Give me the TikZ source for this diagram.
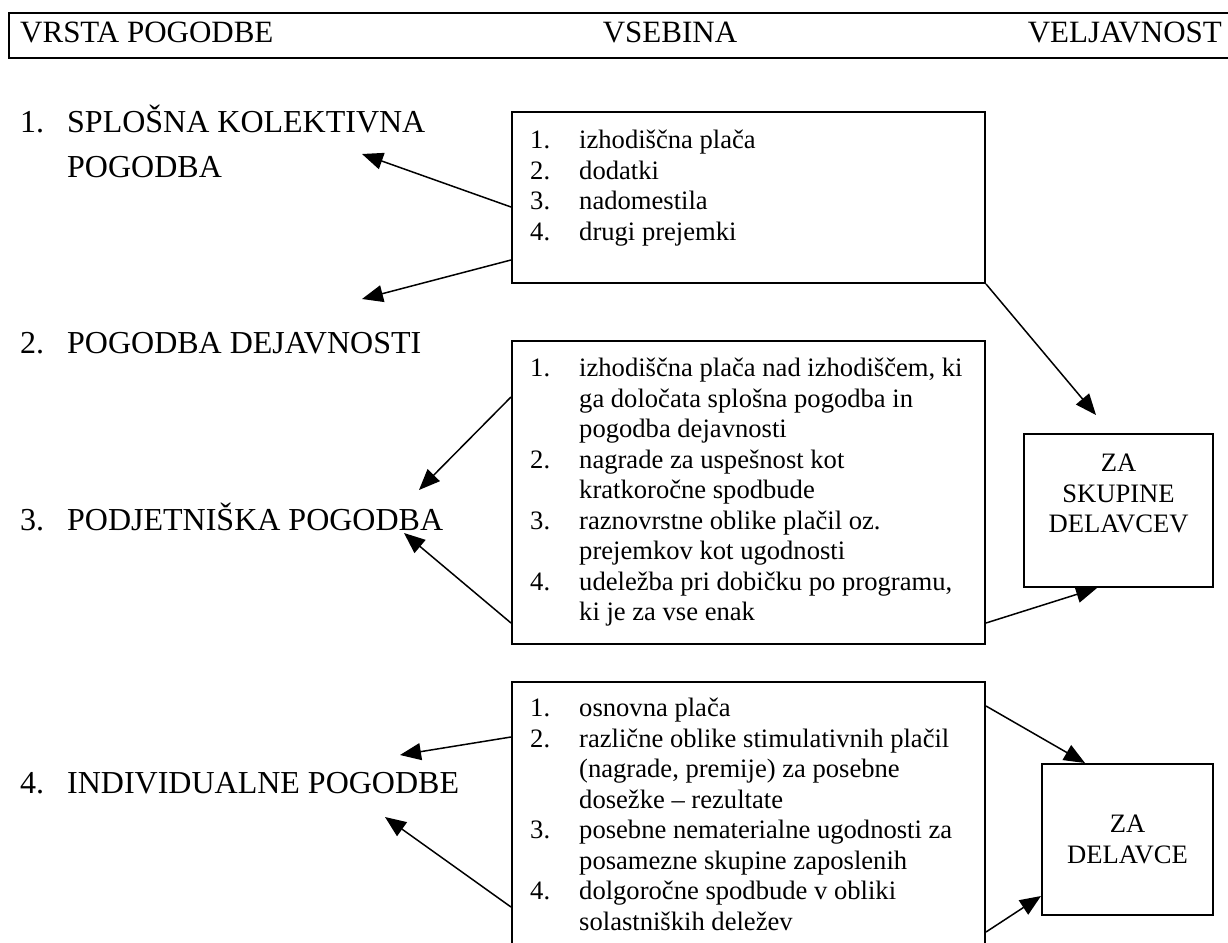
\documentclass[tikz,border=0pt]{standalone}
\usepackage{fontspec}
\setmainfont{Liberation Serif}
\usetikzlibrary{arrows.meta}

\newcommand{\hdrfont}{\fontsize{31}{36}\selectfont}
\newcommand{\bigfont}{\fontsize{32}{45}\selectfont}
\newcommand{\smallfont}{\fontsize{26.6}{30.5}\selectfont}

\begin{document}
\begin{tikzpicture}[x=1pt,y=-1pt,
  box/.style={draw, line width=2pt, rectangle, anchor=north west, inner sep=0pt},
  item/.style={anchor=north west, inner sep=0pt, font=\smallfont, align=left},
  kind/.style={anchor=base west, inner sep=0pt, font=\bigfont, align=left},
  head/.style={inner sep=0pt, font=\hdrfont},
  arr/.style={line width=1.5pt, -{Triangle[length=21pt,width=17pt]}}]

  \clip (0,0) rectangle (1228,942);
  \fill[white] (0,0) rectangle (1228,942);

  % header
  \node[box, line width=2.4pt, minimum width=1240pt, minimum height=45pt] (hdr) at (8,12) {};
  \node[head, anchor=base west] (hkind) at (20,43) {VRSTA POGODBE};
  \node[head, anchor=base] (hcont) at (670,43) {VSEBINA};
  \node[head, anchor=base east] (hvalid) at (1222,43) {VELJAVNOST};

  % kinds of agreements
  \node[kind] (kind1) at (20,177) {\makebox[47pt][l]{1.}SPLOŠNA KOLEKTIVNA\\\hspace*{47pt}POGODBA};
  \node[kind] (kind2) at (20,353) {\makebox[47pt][l]{2.}POGODBA DEJAVNOSTI};
  \node[kind] (kind3) at (20,530) {\makebox[47pt][l]{3.}PODJETNIŠKA POGODBA};
  \node[kind] (kind4) at (20,793) {\makebox[47pt][l]{4.}INDIVIDUALNE POGODBE};

  % contents
  \node[box, minimum width=473pt, minimum height=171pt] (box1) at (511,111) {};
  \node[box, minimum width=473pt, minimum height=303pt] (box2) at (511,340) {};
  \node[box, minimum width=473pt, minimum height=300pt] (box3) at (511,681) {};

  \node[item] (list1) at ([xshift=19pt,yshift=-16pt]box1.north west) {\begin{tabular}{@{}p{49pt}@{}l@{}}
    1. & izhodiščna plača\\
    2. & dodatki\\
    3. & nadomestila\\
    4. & drugi prejemki
  \end{tabular}};
  \node[item] (list2) at ([xshift=19pt,yshift=-15pt]box2.north west) {\begin{tabular}{@{}p{49pt}@{}l@{}}
    1. & izhodiščna plača nad izhodiščem, ki\\
       & ga določata splošna pogodba in\\
       & pogodba dejavnosti\\
    2. & nagrade za uspešnost kot\\
       & kratkoročne spodbude\\
    3. & raznovrstne oblike plačil oz.\\
       & prejemkov kot ugodnosti\\
    4. & udeležba pri dobičku po programu,\\
       & ki je za vse enak
  \end{tabular}};
  \node[item] (list3) at ([xshift=19pt,yshift=-14pt]box3.north west) {\begin{tabular}{@{}p{49pt}@{}l@{}}
    1. & osnovna plača\\
    2. & različne oblike stimulativnih plačil\\
       & (nagrade, premije) za posebne\\
       & dosežke – rezultate\\
    3. & posebne nematerialne ugodnosti za\\
       & posamezne skupine zaposlenih\\
    4. & dolgoročne spodbude v obliki\\
       & solastniških deležev
  \end{tabular}};

  % validity
  \node[box, minimum width=189pt, minimum height=153pt] (grp) at (1023,433) {};
  \node[inner sep=0pt, anchor=north, font=\smallfont, align=center] (grptext) at ([yshift=-21pt]grp.north) {ZA\\SKUPINE\\DELAVCEV};
  \node[box, minimum width=171pt, minimum height=151pt, font=\smallfont, align=center] (ind) at (1041,763) {ZA\\DELAVCE};

  % arrow ends
  \coordinate (t1) at (362,154);
  \coordinate (t2) at (362,299);
  \coordinate (t3) at (1096,415);
  \coordinate (t4) at (419,490);
  \coordinate (t5) at (404,533);
  \coordinate (t7) at (400,755);
  \coordinate (t8) at (385,817);

  \draw[arr] (box1.west |- 0,207) -- (t1);
  \draw[arr] (box1.west |- 0,260) -- (t2);
  \draw[arr] (box1.south east) -- (t3);
  \draw[arr] (box2.west |- 0,397) -- (t4);
  \draw[arr] (box2.west |- 0,623) -- (t5);
  \draw[arr] (box2.east |- 0,623) -- (grp.south -| 1097,0);
  \draw[arr] (box3.west |- 0,737) -- (t7);
  \draw[arr] (box3.west |- 0,907) -- (t8);
  \draw[arr] (box3.east |- 0,706) -- (ind.north -| 1085,0);
  \draw[arr] (box3.east |- 0,932) -- (ind.west |- 0,896);
\end{tikzpicture}
\end{document}
